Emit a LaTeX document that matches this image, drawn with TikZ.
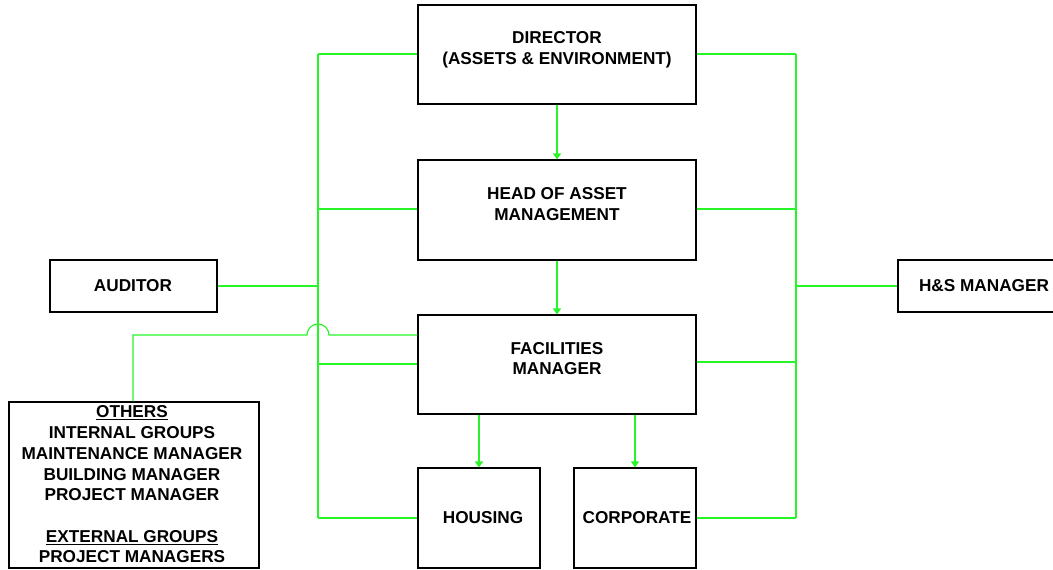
\documentclass[tikz,border=0pt]{standalone}
\usepackage{fontspec}
\setmainfont{Liberation Sans}
\usetikzlibrary{arrows.meta}
\definecolor{linkgreen}{RGB}{40,245,40}
\begin{document}
\begin{tikzpicture}[x=1pt,y=-1pt,
  box/.style={draw=black,line width=1.1pt,inner sep=0pt},
  lbl/.style={align=center,font=\fontsize{17.2}{20.7}\selectfont\bfseries,inner sep=0pt},
  link/.style={draw=linkgreen,line width=1.1pt},
  arr/.style={link,-{Triangle[width=8pt,length=6pt]}}]
\clip (0,0) rectangle (1053,570);
\useasboundingbox (0,0) rectangle (1053,570);
\fill[white] (0,0) rectangle (1053,570);

% boxes
\node[box,minimum width=278pt,minimum height=99pt] (dir) at (557,54.5) {};
\node[box,minimum width=278pt,minimum height=100pt] (head) at (557,210) {};
\node[box,minimum width=278pt,minimum height=99pt] (fac) at (557,364.5) {};
\node[box,minimum width=122pt,minimum height=100pt] (hous) at (479,518) {};
\node[box,minimum width=122pt,minimum height=100pt] (corp) at (635,518) {};
\node[box,minimum width=167pt,minimum height=52pt] (aud) at (133.5,286) {};
\node[box,minimum width=172pt,minimum height=52pt] (hs) at (984,286) {};
\node[box,minimum width=250pt,minimum height=166pt] (oth) at (134,485) {};

% labels
\node[lbl] (tdir) at (557,50) {DIRECTOR\\(ASSETS \& ENVIRONMENT)};
\node[lbl] (thead) at (557,204) {HEAD OF ASSET\\MANAGEMENT};
\node[lbl] (tfac) at (557,358.5) {FACILITIES\\MANAGER};
\node[lbl] (thous) at (483,518) {HOUSING};
\node[lbl] (tcorp) at (637,518) {CORPORATE};
\node[lbl] (taud) at (133,286) {AUDITOR};
\node[lbl] (ths) at (984,286) {H\&S MANAGER};
\node[lbl] (toth) at (132,484.5) {\underline{OTHERS}\\INTERNAL GROUPS\\MAINTENANCE MANAGER\\BUILDING MANAGER\\PROJECT MANAGER\\[20.7pt]\underline{EXTERNAL GROUPS}\\PROJECT MANAGERS};

% left and right buses
\coordinate (lt) at (318,54);
\coordinate (lb) at (318,518);
\coordinate (rt) at (796,54);
\coordinate (rb) at (796,518);
\draw[link] (lt) -- (lb);
\draw[link] (rt) -- (rb);

% left connections
\draw[link] (dir.west |- lt) -- (lt);
\draw[link] (head.west |- 0,209) -- (318,209);
\draw[link] (aud.east) -- (318,286);
\draw[link] (fac.west |- 0,364) -- (318,364);
\draw[link] (hous.west) -- (lb);
\draw[link] (oth.north -| 133,0) -- (133,335) -- (307,335)
  arc[start angle=180,end angle=360,radius=11] -- (fac.west |- 0,335);

% right connections
\draw[link] (dir.east |- rt) -- (rt);
\draw[link] (head.east |- 0,209) -- (796,209);
\draw[link] (hs.west) -- (796,286);
\draw[link] (fac.east |- 0,362) -- (796,362);
\draw[link] (corp.east) -- (rb);

% reporting arrows
\draw[arr] (dir.south) -- (head.north);
\draw[arr] (head.south) -- (fac.north);
\draw[arr] (fac.south -| hous.north) -- (hous.north);
\draw[arr] (fac.south -| corp.north) -- (corp.north);
\end{tikzpicture}
\end{document}
